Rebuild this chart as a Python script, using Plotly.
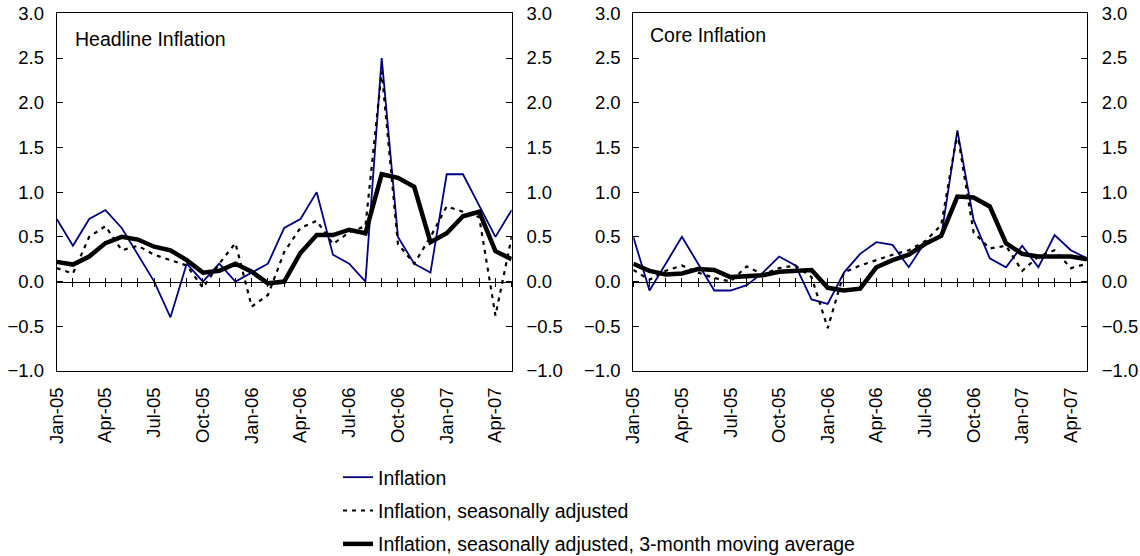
import plotly.graph_objects as go

months = ["Jan-05", "Feb-05", "Mar-05", "Apr-05", "May-05", "Jun-05", "Jul-05", "Aug-05",
          "Sep-05", "Oct-05", "Nov-05", "Dec-05", "Jan-06", "Feb-06", "Mar-06", "Apr-06",
          "May-06", "Jun-06", "Jul-06", "Aug-06", "Sep-06", "Oct-06", "Nov-06", "Dec-06",
          "Jan-07", "Feb-07", "Mar-07", "Apr-07", "May-07"]
tick_labels = months[::3]

headline_infl = [0.7, 0.4, 0.7, 0.8, 0.6, 0.3, 0.0, -0.4, 0.2, 0.0, 0.2, 0.0, 0.1, 0.2, 0.6,
                 0.7, 1.0, 0.3, 0.2, 0.0, 2.5, 0.5, 0.2, 0.1, 1.2, 1.2, 0.85, 0.5, 0.8]
headline_sa = [0.15, 0.09, 0.5, 0.62, 0.35, 0.4, 0.3, 0.24, 0.18, -0.07, 0.2, 0.43, -0.28, -0.15,
               0.33, 0.6, 0.68, 0.42, 0.55, 0.62, 2.35, 0.42, 0.2, 0.5, 0.84, 0.78, 0.72, -0.38, 0.5]
headline_ma = [0.22, 0.19, 0.28, 0.43, 0.5, 0.47, 0.39, 0.35, 0.24, 0.1, 0.12, 0.2, 0.11, -0.02,
               0.0, 0.32, 0.52, 0.52, 0.58, 0.54, 1.2, 1.16, 1.06, 0.44, 0.54, 0.73, 0.78, 0.34, 0.25]

core_infl = [0.5, -0.1, 0.2, 0.5, 0.2, -0.1, -0.1, -0.04, 0.1, 0.28, 0.18, -0.2, -0.25, 0.1, 0.31,
             0.44, 0.41, 0.16, 0.44, 0.5, 1.69, 0.69, 0.26, 0.16, 0.4, 0.16, 0.52, 0.35, 0.26]
core_sa = [0.13, 0.02, 0.12, 0.18, 0.1, 0.04, 0.0, 0.17, 0.08, 0.15, 0.18, 0.05, -0.52, 0.1, 0.18,
           0.24, 0.3, 0.35, 0.45, 0.63, 1.66, 0.55, 0.37, 0.4, 0.12, 0.28, 0.35, 0.15, 0.2]
core_ma = [0.2, 0.12, 0.08, 0.09, 0.14, 0.13, 0.05, 0.06, 0.07, 0.11, 0.12, 0.13, -0.07, -0.1,
           -0.08, 0.16, 0.24, 0.3, 0.42, 0.51, 0.95, 0.94, 0.84, 0.43, 0.31, 0.28, 0.28, 0.28, 0.25]

series_names = ["Inflation", "Inflation, seasonally adjusted",
                "Inflation, seasonally adjusted, 3-month moving average"]
panel_titles = ["Headline Inflation", "Core Inflation"]

FONT = "Liberation Sans, Arial, sans-serif"
FS = 18.5      # tick labels
FS2 = 19.5     # titles and legend
W, H = 1140, 556

fig = go.Figure()

styles = [dict(color="#000080", width=1.8),
          dict(color="black", width=2.2, dash="4px,5px"),
          dict(color="black", width=4.5)]

panels = [(headline_infl, headline_sa, headline_ma, "x", "y", True),
          (core_infl, core_sa, core_ma, "x2", "y3", False)]
for data3, sa, ma, xa, ya, show in panels:
    for i, (vals, st) in enumerate(zip([data3, sa, ma], styles)):
        fig.add_trace(go.Scatter(x=months, y=vals, mode="lines", line=st,
                                 name=series_names[i], legendgroup=f"g{i}",
                                 showlegend=show, xaxis=xa, yaxis=ya,
                                 hoverinfo="skip"))

# empty traces so that the secondary axes (right-hand value axes and
# zero-crossing tick axes) are registered and drawn
for xa, ya in [("x3", "y"), ("x4", "y"), ("x5", "y3"), ("x6", "y3"),
               ("x", "y2"), ("x2", "y4")]:
    fig.add_trace(go.Scatter(x=[], y=[], xaxis=xa, yaxis=ya, showlegend=False,
                             hoverinfo="skip"))

def px_x(sx):
    return sx / W

def px_y(sy):
    return 1 - sy / H

y_bot = px_y(371)
y_top = px_y(13.3)
zero_pos = y_bot + (0 - (-1)) / 4 * (y_top - y_bot)
domL = [px_x(56.7), px_x(511.7)]
domR = [px_x(633.3), px_x(1087.0)]

tickfont = dict(family=FONT, size=FS, color="black")

def main_x(dom, anchor):
    return dict(domain=dom, anchor=anchor, type="category", categoryarray=months,
                range=[0, len(months) - 1], tickmode="array", tickvals=tick_labels,
                ticktext=tick_labels, tickangle=-90, ticks="", showgrid=False,
                zeroline=False, showline=True, mirror=True, linecolor="black",
                linewidth=1, tickfont=tickfont, ticklabelstandoff=8, automargin=False)

def main_y(anchor, side="left", overlaying=None):
    d = dict(anchor=anchor, range=[-1, 3], dtick=0.5, tick0=0, tickformat=".1f",
             ticks="inside", ticklen=6, tickcolor="black", showgrid=False,
             zeroline=False, showline=True, linecolor="black", linewidth=1,
             tickfont=tickfont, side=side, ticklabeloverflow="allow",
             ticklabelstandoff=(8 if side == "left" else 10), automargin=False)
    if overlaying:
        d["overlaying"] = overlaying
    else:
        d["domain"] = [y_bot, y_top]
        d["mirror"] = True
    return d

def zero_x(base, direction):
    return dict(overlaying=base, anchor="free", position=zero_pos, type="linear",
                range=[0, len(months) - 1], tickmode="linear", tick0=0, dtick=1,
                ticks=direction, ticklen=4, tickcolor="black", showticklabels=False,
                showgrid=False, zeroline=False, showline=True, linecolor="black",
                linewidth=1, automargin=False)

fig.update_layout(
    width=W, height=H,
    margin=dict(l=0, r=0, t=0, b=0, autoexpand=False),
    paper_bgcolor="white", plot_bgcolor="white",
    font=dict(family=FONT, size=FS, color="black"),
    xaxis=main_x(domL, "y"),
    yaxis=main_y("x"),
    yaxis2=main_y("x", side="right", overlaying="y"),
    xaxis2=main_x(domR, "y3"),
    yaxis3=main_y("x2"),
    yaxis4=main_y("x2", side="right", overlaying="y3"),
    xaxis3=zero_x("x", "outside"),
    xaxis4=zero_x("x", "inside"),
    xaxis5=zero_x("x2", "outside"),
    xaxis6=zero_x("x2", "inside"),
    showlegend=True,
    legend=dict(x=px_x(338), y=px_y(458), xanchor="left", yanchor="top",
                traceorder="grouped", tracegroupgap=5, itemwidth=30,
                font=dict(family=FONT, size=FS2, color="black"),
                bgcolor="rgba(0,0,0,0)"),
)

fig.add_annotation(text=panel_titles[0], xref="paper", yref="paper",
                   x=px_x(73), y=px_y(39), xanchor="left", yanchor="middle",
                   showarrow=False, font=dict(family=FONT, size=FS2, color="black"))
fig.add_annotation(text=panel_titles[1], xref="paper", yref="paper",
                   x=px_x(648), y=px_y(35), xanchor="left", yanchor="middle",
                   showarrow=False, font=dict(family=FONT, size=FS2, color="black"))

# remove the browser's default page margin so the figure sits at (0, 0)
fig.write_html("out.html",
               config={"displayModeBar": False},
               post_script="document.body.style.margin='0';"
                           "document.body.style.overflow='hidden';")
